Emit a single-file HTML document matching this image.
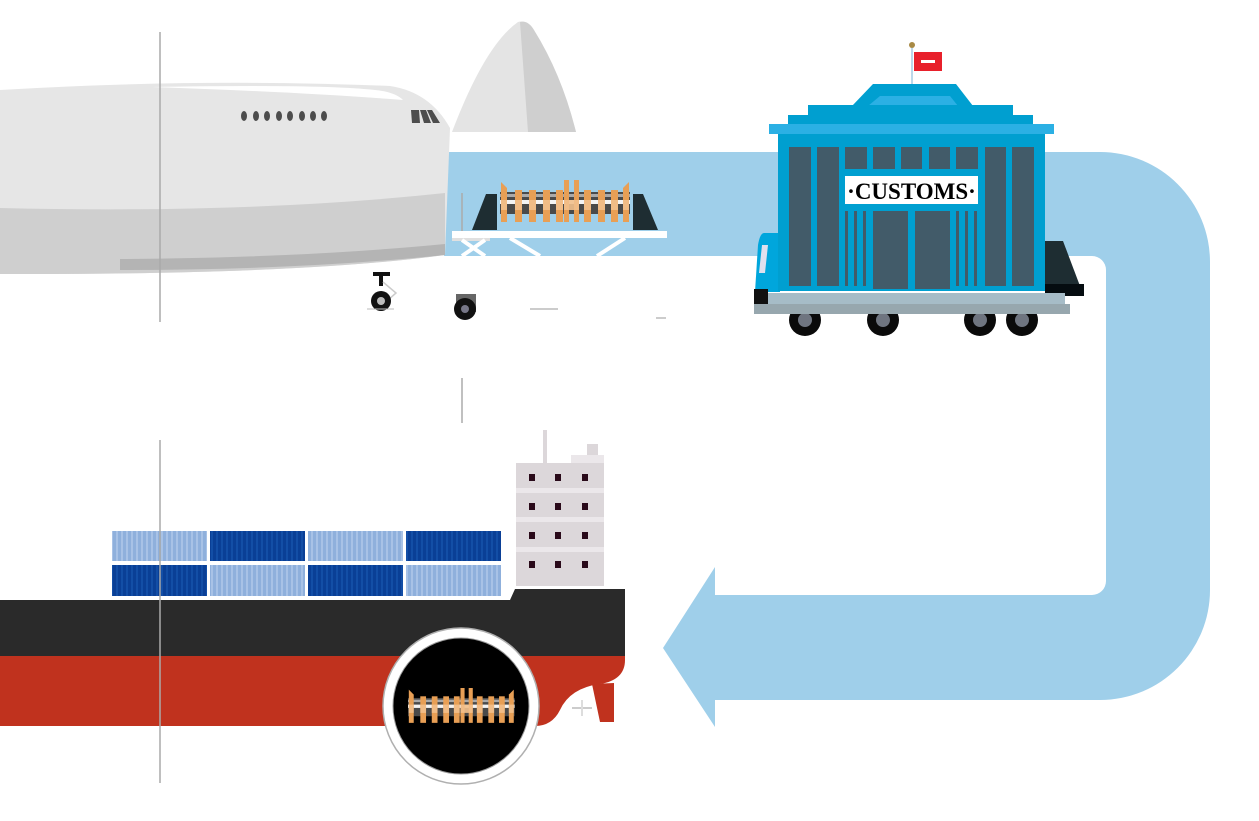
<!DOCTYPE html>
<html><head><meta charset="utf-8"><style>
html,body{margin:0;padding:0;background:#fff;}
svg{display:block;}
</style></head><body>
<svg width="1259" height="821" viewBox="0 0 1259 821" xmlns="http://www.w3.org/2000/svg">
<defs>
<g id="crank">
  <rect x="0" y="12" width="130" height="22" fill="#4a4a4a"/>
  <rect x="0" y="20" width="130" height="4" fill="#f4f4f4"/>
  <rect x="0" y="14" width="130" height="3" fill="#aaa"/>
  <g fill="#e89f55">
    <path d="M1,2 L7,8 L7,42 L1,42 Z"/>
    <rect x="15" y="10" width="7" height="32"/>
    <rect x="29" y="10" width="7" height="32"/>
    <rect x="43" y="10" width="7" height="32"/>
    <rect x="56" y="10" width="7" height="32"/>
    <path d="M64,0 L69,0 L69,42 L64,42 Z"/>
    <path d="M74,0 L79,0 L79,42 L74,42 Z"/>
    <rect x="84" y="10" width="7" height="32"/>
    <rect x="98" y="10" width="7" height="32"/>
    <rect x="111" y="10" width="7" height="32"/>
    <path d="M123,8 L129,2 L129,42 L123,42 Z"/>
  </g>
  <g fill="#f2c08c" opacity="0.9">
    <rect x="1" y="20" width="6" height="10"/><rect x="15" y="20" width="7" height="10"/><rect x="29" y="20" width="7" height="10"/><rect x="43" y="20" width="7" height="10"/><rect x="56" y="20" width="7" height="10"/><rect x="64" y="20" width="15" height="10"/><rect x="84" y="20" width="7" height="10"/><rect x="98" y="20" width="7" height="10"/><rect x="111" y="20" width="7" height="10"/><rect x="123" y="20" width="6" height="10"/>
  </g>
</g>
</defs>

<path d="M444,152 H1100 A110,110 0 0 1 1210,262 V590 A110,110 0 0 1 1100,700 H715 V727 L663,648 L715,567 V595 H1092 A14,14 0 0 0 1106,581 V270 A14,14 0 0 0 1092,256 H444 Z" fill="#9fcfea"/>

<path d="M452,132 Q485,45 518,22 Q525,20 530,26 Q560,70 576,132 Z" fill="#e4e4e4"/>
<path d="M520,22 Q528,20 534,30 Q562,75 576,132 L528,132 Z" fill="#cfcfcf"/>
<path d="M0,90 Q200,78 390,86 Q430,92 450,128 L445,255 Q300,275 0,274 Z" fill="#e6e6e6"/>
<path d="M0,208 Q250,214 445,193 V255 Q300,275 0,274 Z" fill="#cfcfcf"/>
<path d="M120,259 Q300,258 445,244 V255 Q300,270 120,270 Z" fill="#b4b4b4"/>
<path d="M152,87 Q320,84 375,90 Q395,92 403,100 Q300,92 152,87 Z" fill="#fff"/>
<g fill="#4d4d4d">
<ellipse cx="244" cy="116" rx="3" ry="5"/><ellipse cx="256" cy="116" rx="3" ry="5"/><ellipse cx="267" cy="116" rx="3" ry="5"/><ellipse cx="279" cy="116" rx="3" ry="5"/><ellipse cx="290" cy="116" rx="3" ry="5"/><ellipse cx="302" cy="116" rx="3" ry="5"/><ellipse cx="313" cy="116" rx="3" ry="5"/><ellipse cx="324" cy="116" rx="3" ry="5"/>
<path d="M411,110 L419,110 L420,123 L412,123 Z"/><path d="M420,110 L426,110 L431,123 L424,123 Z"/><path d="M427,110 L432,110 L440,123 L433,123 Z"/>
</g>
<rect x="373" y="272" width="17" height="4" fill="#111"/>
<rect x="379" y="276" width="4" height="10" fill="#111"/>
<path d="M383,282 L396,293 L388,300" stroke="#ccc" stroke-width="1.5" fill="none"/>
<circle cx="381" cy="301" r="10" fill="#111"/><circle cx="381" cy="301" r="4" fill="#bbb"/>
<line x1="367" y1="309" x2="394" y2="309" stroke="#bbb"/>
<rect x="456" y="294" width="20" height="18" fill="#666"/>
<circle cx="465" cy="309" r="11" fill="#111"/><circle cx="465" cy="309" r="4" fill="#778"/>
<line x1="530" y1="309" x2="558" y2="309" stroke="#bbb" stroke-width="1.5"/>
<line x1="656" y1="318" x2="666" y2="318" stroke="#999" stroke-width="1"/>

<path d="M486,194 L497,194 L497,230 L472,230 Z" fill="#1e2d32"/>
<path d="M633,194 L643,194 L658,230 L633,230 Z" fill="#1e2d32"/>
<use href="#crank" x="500" y="180"/>
<line x1="462" y1="193" x2="462" y2="240" stroke="#aaa" stroke-width="1.5"/>
<rect x="452" y="231" width="215" height="7" fill="#fff"/>
<rect x="452" y="238" width="38" height="3" fill="#e0e0e0"/>
<g stroke="#fff" stroke-width="4">
<line x1="462" y1="240" x2="485" y2="256"/><line x1="485" y1="240" x2="462" y2="256"/>
<line x1="510" y1="238" x2="540" y2="256"/><line x1="625" y1="238" x2="597" y2="256"/>
</g>

<path d="M764,233 L780,233 L780,292 L755,292 L758,245 Q760,233 764,233 Z" fill="#00a6dc"/>
<path d="M762,245 L768,245 L765,273 L759,273 Z" fill="#e0e0ee"/>
<rect x="754" y="289" width="14" height="24" fill="#111"/>
<path d="M1045,241 L1063,241 L1080,286 L1045,286 Z" fill="#1e2d32"/>
<rect x="1045" y="284" width="39" height="12" fill="#050c10"/>
<rect x="768" y="293" width="297" height="11" fill="#a6bcc7"/>
<g fill="#0a0a0a"><circle cx="805" cy="320" r="16"/><circle cx="883" cy="320" r="16"/><circle cx="980" cy="320" r="16"/><circle cx="1022" cy="320" r="16"/></g>
<g fill="#6f7580"><circle cx="805" cy="320" r="7"/><circle cx="883" cy="320" r="7"/><circle cx="980" cy="320" r="7"/><circle cx="1022" cy="320" r="7"/></g>
<rect x="754" y="304" width="316" height="10" fill="#97a7ae"/>

<line x1="912" y1="48" x2="912" y2="86" stroke="#bcd8ea" stroke-width="2"/>
<circle cx="912" cy="45" r="3" fill="#a88a45"/>
<rect x="914" y="52" width="28" height="19" fill="#e8202b"/>
<rect x="921" y="60" width="14" height="3" fill="#fff"/>
<path d="M873,84 L956,84 L973,106 L852,106 Z" fill="#009fd0"/>
<path d="M880,96 L950,96 L958,106 L868,106 Z" fill="#2bb0e4"/>
<rect x="808" y="105" width="205" height="10" fill="#009fd0"/>
<rect x="788" y="115" width="245" height="10" fill="#009fd0"/>
<rect x="769" y="124" width="285" height="10" fill="#2bb0e4"/>
<rect x="778" y="134" width="267" height="157" fill="#009fd0"/>
<g fill="#425b69">
<rect x="789" y="147" width="22" height="139"/><rect x="817" y="147" width="22" height="139"/>
<rect x="845" y="147" width="22" height="22"/><rect x="873" y="147" width="22" height="22"/><rect x="901" y="147" width="21" height="22"/><rect x="929" y="147" width="21" height="22"/><rect x="956" y="147" width="22" height="22"/>
<rect x="985" y="147" width="21" height="139"/><rect x="1012" y="147" width="22" height="139"/>
<rect x="845" y="211" width="3" height="75"/><rect x="854" y="211" width="3" height="75"/><rect x="863" y="211" width="3" height="75"/>
<rect x="873" y="211" width="35" height="78"/><rect x="915" y="211" width="35" height="78"/>
<rect x="956" y="211" width="3" height="75"/><rect x="965" y="211" width="3" height="75"/><rect x="974" y="211" width="3" height="75"/>
</g>
<rect x="845" y="176" width="133" height="28" fill="#fff"/>
<text x="911.5" y="199" text-anchor="middle" font-family="Liberation Serif, serif" font-size="23" font-weight="bold" fill="#000">·CUSTOMS·</text>

<g stroke="#aaa" stroke-width="1.5">
<line x1="160" y1="32" x2="160" y2="322"/>
<line x1="462" y1="378" x2="462" y2="423"/>
</g>

<rect x="543" y="430" width="4" height="34" fill="#dcd7da"/>
<rect x="587" y="444" width="11" height="12" fill="#dcd7da"/>
<rect x="571" y="455" width="33" height="9" fill="#ebe7ea"/>
<rect x="516" y="463" width="88" height="123" fill="#dcd7da"/>
<g fill="#ebe7ea"><rect x="516" y="488" width="88" height="5"/><rect x="516" y="517" width="88" height="5"/><rect x="516" y="547" width="88" height="5"/></g>
<g fill="#2a0a1a">
<rect x="529" y="474" width="6" height="7"/><rect x="555" y="474" width="6" height="7"/><rect x="582" y="474" width="6" height="7"/>
<rect x="529" y="503" width="6" height="7"/><rect x="555" y="503" width="6" height="7"/><rect x="582" y="503" width="6" height="7"/>
<rect x="529" y="532" width="6" height="7"/><rect x="555" y="532" width="6" height="7"/><rect x="582" y="532" width="6" height="7"/>
<rect x="529" y="561" width="6" height="7"/><rect x="555" y="561" width="6" height="7"/><rect x="582" y="561" width="6" height="7"/>
</g>

<defs>
<pattern id="lt" width="5" height="10" patternUnits="userSpaceOnUse"><rect width="5" height="10" fill="#8fb0dc"/><rect x="1" width="2" height="10" fill="#a8c2e6"/></pattern>
<pattern id="dk" width="5" height="10" patternUnits="userSpaceOnUse"><rect width="5" height="10" fill="#0a3f96"/><rect x="1" width="2" height="10" fill="#134ea6"/></pattern>
</defs>
<rect x="112" y="531" width="95" height="30" fill="url(#lt)"/>
<rect x="210" y="531" width="95" height="30" fill="url(#dk)"/>
<rect x="308" y="531" width="95" height="30" fill="url(#lt)"/>
<rect x="406" y="531" width="95" height="30" fill="url(#dk)"/>
<rect x="112" y="565" width="95" height="31" fill="url(#dk)"/>
<rect x="210" y="565" width="95" height="31" fill="url(#lt)"/>
<rect x="308" y="565" width="95" height="31" fill="url(#dk)"/>
<rect x="406" y="565" width="95" height="31" fill="url(#lt)"/>

<path d="M0,600 H510 L515,589 H625 V656 H0 Z" fill="#2a2a2a"/>
<path d="M0,656 H625 V660 Q625,680 600,684 Q570,688 560,710 Q552,726 535,726 H0 Z" fill="#c0321e"/>
<path d="M592,684 L614,683 L614,722 L600,722 Z" fill="#c0321e"/>
<line x1="572" y1="708" x2="592" y2="708" stroke="#ccc" stroke-width="2"/>
<line x1="582" y1="700" x2="582" y2="716" stroke="#ddd" stroke-width="2"/>

<line x1="160" y1="440" x2="160" y2="783" stroke="#aaa" stroke-width="1.5"/>

<circle cx="461" cy="706" r="78" fill="#fff" stroke="#b0b0b0" stroke-width="1.5"/>
<circle cx="461" cy="706" r="68" fill="#000" stroke="#999" stroke-width="1"/>
<use href="#crank" transform="translate(408,688) scale(0.82,0.83)"/>
</svg>
</body></html>
